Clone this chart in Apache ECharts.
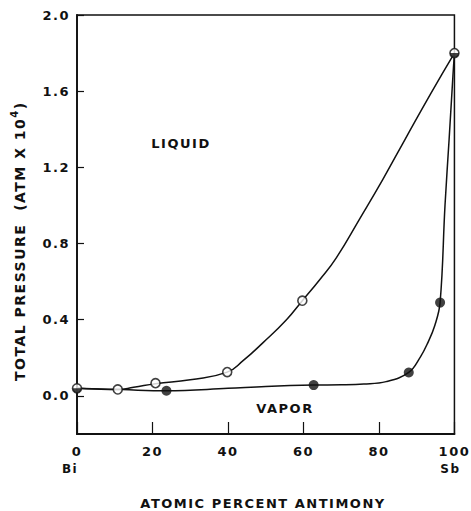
<!DOCTYPE html>
<html>
<head>
<meta charset="utf-8">
<script src="https://cdn.jsdelivr.net/npm/echarts@6/dist/echarts.min.js"></script>
<style>
html,body{margin:0;padding:0;background:#fff;}
#c{width:471px;height:511px;}
#c svg text{letter-spacing:1.5px;}
</style>
</head>
<body>
<div id="c"></div>
<script>
// ---- data ----
const xTicks = [0, 20, 40, 60, 80, 100];
const yTicks = [0, 0.4, 0.8, 1.2, 1.6, 2.0];
const xEndNames = { 0: 'Bi', 100: 'Sb' };

// liquid curve (open circles)
const liquidCurve = [[0,0.04],[5,0.036],[10.8,0.034],[15,0.045],[20.8,0.064],[30,0.085],[39.8,0.125],[44,0.185],[49.3,0.28],[55.5,0.4],[59.7,0.5],[64.3,0.61],[68.7,0.725],[74.9,0.93],[81,1.136],[87,1.35],[93.8,1.59],[100,1.8]];
// vapor curve (filled circles)
const vaporCurve = [[0,0.04],[12,0.033],[23.7,0.027],[40,0.04],[50,0.05],[62.7,0.057],[70,0.058],[76,0.062],[81.9,0.075],[87.9,0.123],[91,0.205],[92.9,0.277],[94.8,0.37],[96.2,0.49],[97.5,1.0],[98.6,1.35],[99.6,1.68],[100,1.8]];

const liquidPoints = [[10.8,0.034],[20.8,0.067],[39.8,0.125],[59.7,0.5]];
const vaporPoints = [[23.7,0.027],[62.7,0.057],[87.9,0.123],[96.2,0.49]];
const sharedPoints = [[0,0.04],[100,1.8]];

const yTitleMain = 'TOTAL PRESSURE  (ATM X 10';
const yTitleSup = '4';
const yTitleEnd = ')';

const ink = '#111';
const font = 'DejaVu Sans';
const spacing = 1.5;

// measure title parts (letter-spacing applied by CSS)
const mctx = document.createElement('canvas').getContext('2d');
function textW(t, f) { mctx.font = f; return mctx.measureText(t).width + spacing * t.length; }
const titleFont = 'bold 14px "DejaVu Sans"';
const supFont = 'bold 10px "DejaVu Sans"';
const tStart = 381, tx = 20;
const wMain = textW(yTitleMain, titleFont);
const wSup = textW(yTitleSup, supFont);

const chart = echarts.init(document.getElementById('c'), null, { renderer: 'svg' });
chart.setOption({
  animation: false,
  backgroundColor: '#fff',
  grid: { left: 77, right: 16, top: 15, bottom: 77, show: true, borderColor: ink, borderWidth: 1.5, backgroundColor: 'transparent' },
  xAxis: {
    type: 'value', min: 0, max: 100, interval: 20,
    axisLine: { show: true, onZero: false, lineStyle: { color: ink, width: 1.8 } },
    axisTick: { show: true, inside: true, length: 12, lineStyle: { color: ink, width: 1.2 } },
    splitLine: { show: false },
    axisLabel: {
      margin: 8, color: ink, fontFamily: font, fontSize: 13, fontWeight: 'bold', lineHeight: 18,
      formatter: v => v === 0 ? '0\n{bi|' + xEndNames[0] + '}' : (v === 100 ? '100\n{sb|' + xEndNames[100] + '}' : String(v)),
      rich: {
        bi: { fontFamily: font, fontSize: 12, fontWeight: 'bold', color: ink, lineHeight: 18, padding: [0, 14, 0, 0] },
        sb: { fontFamily: font, fontSize: 12, fontWeight: 'bold', color: ink, lineHeight: 18, padding: [0, 8, 0, 0] }
      }
    }
  },
  yAxis: {
    type: 'value', min: -0.2, max: 2.0,
    axisLine: { show: true, onZero: false, lineStyle: { color: ink, width: 1.8 } },
    axisTick: { show: true, inside: true, length: 7, customValues: yTicks, lineStyle: { color: ink, width: 1.2 } },
    splitLine: { show: false },
    axisLabel: { customValues: yTicks, margin: 7, color: ink, fontFamily: font, fontSize: 13, fontWeight: 'bold', formatter: v => v.toFixed(1) }
  },
  graphic: [
    { type: 'text', x: tx, y: tStart, rotation: Math.PI / 2,
      style: { text: yTitleMain, fill: ink, font: titleFont, align: 'left', verticalAlign: 'middle' } },
    { type: 'text', x: tx - 6, y: tStart - wMain, rotation: Math.PI / 2,
      style: { text: yTitleSup, fill: ink, font: supFont, align: 'left', verticalAlign: 'middle' } },
    { type: 'text', x: tx, y: tStart - wMain - wSup, rotation: Math.PI / 2,
      style: { text: yTitleEnd, fill: ink, font: titleFont, align: 'left', verticalAlign: 'middle' } },
    { type: 'text', x: 263, y: 503, style: { text: 'ATOMIC PERCENT ANTIMONY', fill: ink, font: 'bold 13px "DejaVu Sans"', align: 'center', verticalAlign: 'middle' } },
    { type: 'text', x: 181, y: 143, style: { text: 'LIQUID', fill: ink, font: 'bold 13px "DejaVu Sans"', align: 'center', verticalAlign: 'middle' } },
    { type: 'text', x: 285, y: 408, style: { text: 'VAPOR', fill: ink, font: 'bold 13px "DejaVu Sans"', align: 'center', verticalAlign: 'middle' } }
  ],
  series: [
    { type: 'line', data: liquidCurve, smooth: 0.5, showSymbol: false, symbol: 'none', lineStyle: { color: ink, width: 1.5 }, z: 2 },
    { type: 'line', data: vaporCurve, smooth: 0.4, showSymbol: false, symbol: 'none', lineStyle: { color: ink, width: 1.5 }, z: 2 },
    { type: 'scatter', data: liquidPoints, symbol: 'circle', symbolSize: 9, itemStyle: { color: '#fff', borderColor: ink, borderWidth: 1.6 }, z: 5 },
    { type: 'scatter', data: vaporPoints, symbol: 'circle', symbolSize: 10, itemStyle: { color: ink }, z: 5 },
    { type: 'scatter', data: sharedPoints, symbol: 'circle', symbolSize: 9, itemStyle: { color: '#fff', borderColor: ink, borderWidth: 1.6 }, z: 5 },
    { type: 'scatter', data: sharedPoints, symbol: 'path://M0,0 A5,5 0 0,0 10,0 Z', symbolSize: 9, symbolKeepAspect: true, symbolOffset: [0, '25%'], itemStyle: { color: ink }, z: 6 }
  ]
});
</script>
</body>
</html>
